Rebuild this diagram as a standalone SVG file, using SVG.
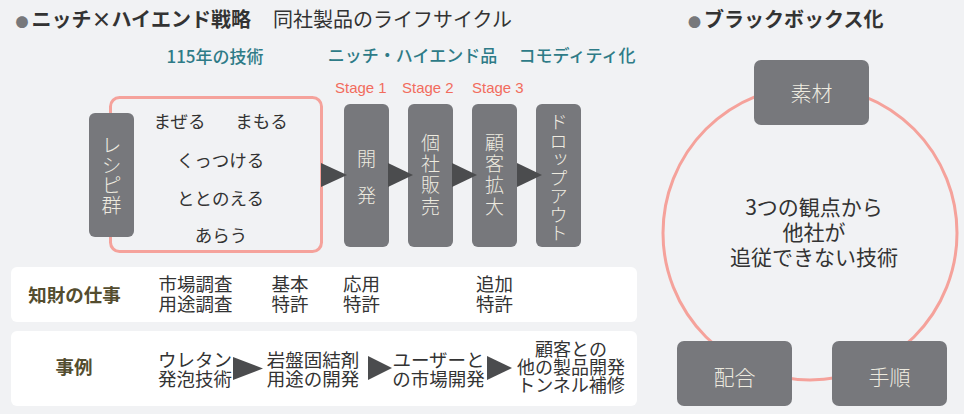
<svg xmlns="http://www.w3.org/2000/svg" width="964" height="414" viewBox="0 0 964 414">
<style>
text{font-family:"Noto Sans CJK JP","Noto Sans",sans-serif;fill:#333}
.bg{fill:#f1f2f4}
.box{fill:#77787c}
.vt{writing-mode:vertical-rl;fill:#eeebe0;font-weight:300}
.bt{fill:#eeebe0;font-size:21px;text-anchor:middle;font-weight:300}
.pink{fill:none;stroke:#f5a29b;stroke-width:3}
.arr{fill:#4b4c4e}
.teal{fill:#2e7b87;font-size:17px;text-anchor:middle;font-weight:500}
.stage{font-family:"Liberation Sans",Arial,sans-serif;fill:#f26c5d;font-size:15px}
.bul{fill:#77787b}
.c{text-anchor:middle}
.t{font-size:18.5px;text-anchor:middle}
.t2{font-size:18px;text-anchor:middle}
.lab{fill:#544d2f;font-weight:bold;font-size:18.5px;text-anchor:middle}
.panel{fill:#ffffff}
.ct{font-size:21px;text-anchor:middle}
</style>
<rect class="bg" x="0" y="0" width="964" height="414"/>

<g id="title-left">
<text x="15.5" y="27" font-size="20"><tspan class="bul" font-size="13">●</tspan><tspan dx="3" font-weight="bold">ニッチ×ハイエンド戦略</tspan></text>
<text x="273" y="27" font-size="20">同社製品のライフサイクル</text>
</g>
<g id="title-right">
<text x="688" y="27" font-size="20"><tspan class="bul" font-size="13">●</tspan><tspan dx="3" font-weight="bold">ブラックボックス化</tspan></text>
</g>

<g id="phase-headers">
<text class="teal" x="215" y="63" font-weight="bold" font-size="18">115年の技術</text>
<text class="teal" x="412.5" y="62">ニッチ・ハイエンド品</text>
<text class="teal" x="577" y="62">コモディティ化</text>
</g>
<g id="stage-labels">
<text class="stage" x="335" y="93">Stage 1</text>
<text class="stage" x="402" y="93">Stage 2</text>
<text class="stage" x="472" y="93">Stage 3</text>
</g>

<g id="tech-group">
<rect class="pink" x="110.5" y="97.5" width="211" height="154" rx="9"/>
<text class="c" x="179.5" y="128" font-size="17.5">まぜる</text>
<text class="c" x="261.5" y="128" font-size="17.5">まもる</text>
<text class="c" x="220.5" y="167" font-size="17.5">くっつける</text>
<text class="c" x="220.5" y="205" font-size="17.5">ととのえる</text>
<text class="c" x="221" y="242" font-size="17.5">あらう</text>
</g>
<g id="recipes">
<rect class="box" x="89" y="113" width="45" height="124" rx="6"/>
<text class="vt" x="111.5" y="135" font-size="20">レシピ群</text>
</g>
<g id="stage1">
<rect class="box" x="344" y="104" width="45" height="143" rx="6"/>
<text class="vt" x="366.5" y="149.5" font-size="19" letter-spacing="18">開発</text>
</g>
<g id="stage2">
<rect class="box" x="408" y="104" width="45" height="143" rx="6"/>
<text class="vt" x="430.5" y="133" font-size="19" letter-spacing="2.3">個社販売</text>
</g>
<g id="stage3">
<rect class="box" x="472" y="104" width="45" height="143" rx="6"/>
<text class="vt" x="494.5" y="133" font-size="19" letter-spacing="2.3">顧客拡大</text>
</g>
<g id="dropout">
<rect class="box" x="536" y="104" width="45" height="143" rx="6"/>
<text class="vt" x="558.5" y="113" font-size="18.5">ドロップアウト</text>
</g>

<g id="ip-panel">
<rect class="panel" x="11" y="267" width="626" height="55" rx="6"/>
<text class="lab" x="74.5" y="302">知財の仕事</text>
<text class="t" x="195.5" y="291">市場調査<tspan x="195.5" dy="20">用途調査</tspan></text>
<text class="t" x="290" y="291">基本<tspan x="290" dy="20">特許</tspan></text>
<text class="t" x="361.5" y="291">応用<tspan x="361.5" dy="20">特許</tspan></text>
<text class="t" x="494.5" y="291">追加<tspan x="494.5" dy="20">特許</tspan></text>
</g>
<g id="case-panel">
<rect class="panel" x="11" y="331" width="626" height="75" rx="6"/>
<text class="lab" x="74" y="374" font-size="19">事例</text>
<text class="t" x="195" y="367">ウレタン<tspan x="195" dy="19">発泡技術</tspan></text>
<text class="t" x="313" y="367">岩盤固結剤<tspan x="313" dy="19">用途の開発</tspan></text>
<text class="t" x="438.5" y="367">ユーザーと<tspan x="438.5" dy="19">の市場開発</tspan></text>
<text class="t2" x="571" y="356">顧客との<tspan x="571" dy="18">他の製品開発</tspan><tspan x="571" dy="18">トンネル補修</tspan></text>
</g>

<g id="blackbox-cycle">
<circle class="pink" cx="810" cy="233" r="147"/>
<text class="ct" x="814" y="215">3つの観点から<tspan x="814" dy="25">他社が</tspan><tspan x="814" dy="25">追従できない技術</tspan></text>
</g>
<g id="material">
<rect class="box" x="754" y="60" width="115" height="65" rx="7"/>
<text class="bt" x="811.5" y="101">素材</text>
</g>
<g id="formulation">
<rect class="box" x="677" y="341" width="115" height="65" rx="7"/>
<text class="bt" x="734.5" y="385">配合</text>
</g>
<g id="procedure">
<rect class="box" x="832" y="341" width="115" height="65" rx="7"/>
<text class="bt" x="889.5" y="385">手順</text>
</g>

<g id="connectors">
<polygon class="arr" points="321,163 347,175 321,187"/>
<polygon class="arr" points="388,163 413,175 388,187"/>
<polygon class="arr" points="452,163 477,175 452,187"/>
<polygon class="arr" points="517,163 542,175 517,187"/>
<polygon class="arr" points="233,357 263,368.5 233,380"/>
<polygon class="arr" points="368,356 392,368 368,380"/>
<polygon class="arr" points="487,356 512,368 487,380"/>
</g>
</svg>
